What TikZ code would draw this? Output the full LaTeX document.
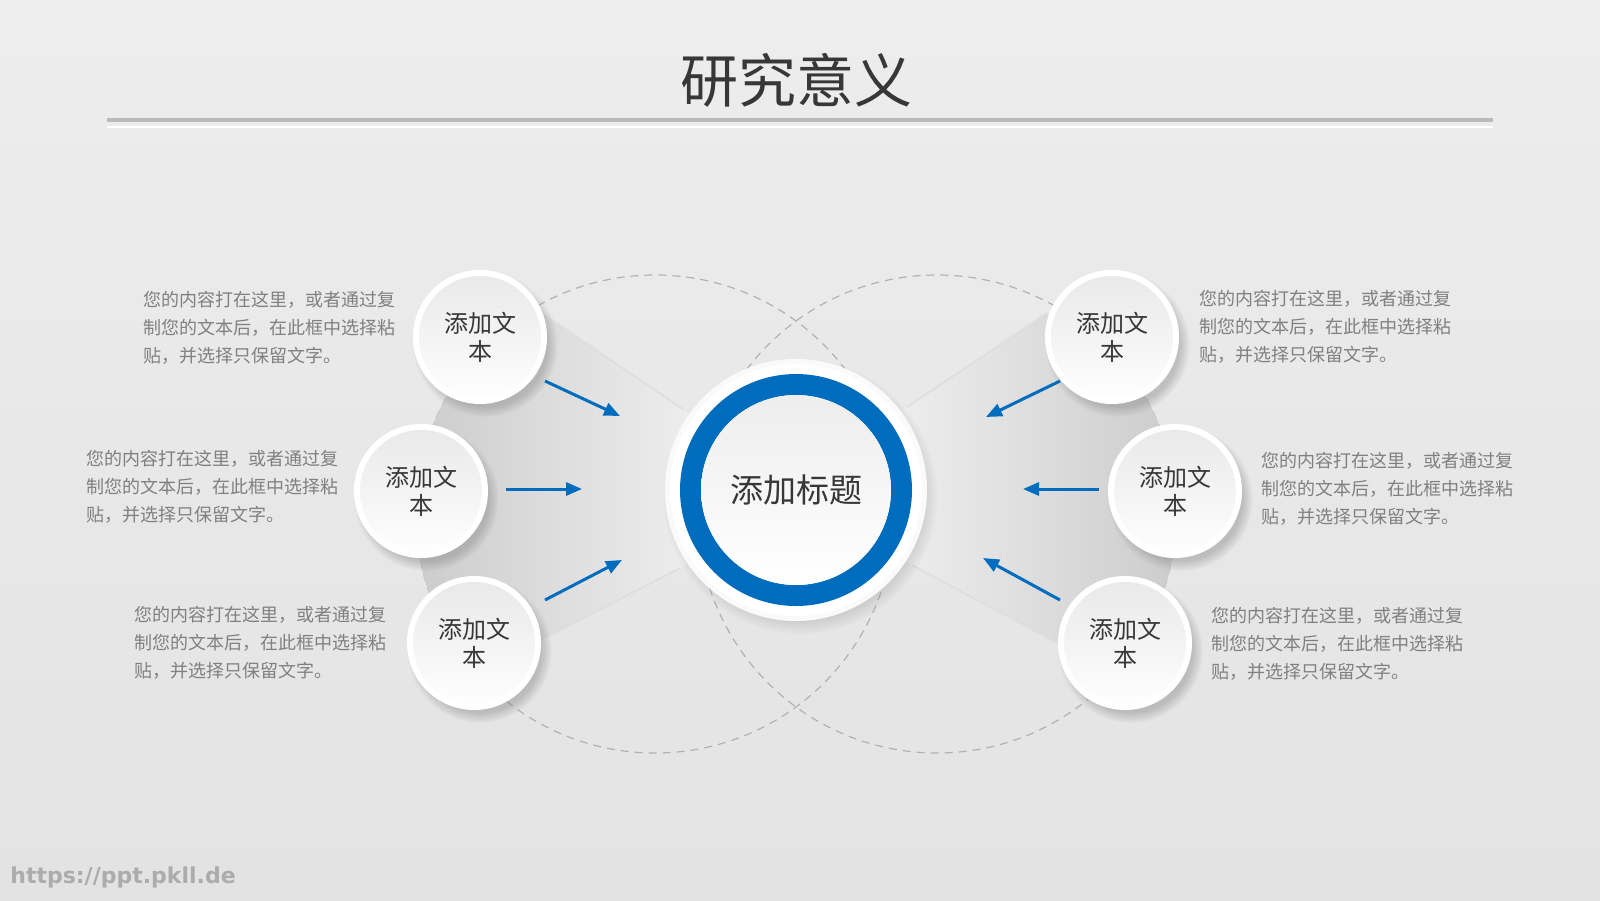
\documentclass[tikz,border=0pt]{standalone}
\usepackage{fontspec}
\setmainfont{Noto Sans CJK SC}
\newfontfamily\urlfont{DejaVu Sans}
\usepackage{xcolor}
\usepackage{tikz}
\usetikzlibrary{shapes,arrows.meta,positioning,calc,backgrounds,shadows}
\definecolor{mainblue}{RGB}{0, 108, 189}
\definecolor{darkgray}{RGB}{55, 55, 55}
\definecolor{textgray}{RGB}{128, 128, 128}

\newcommand{\notetext}{您的内容打在这里，或者通过复\\制您的文本后，在此框中选择粘\\贴，并选择只保留文字。}

\tikzset{
    ball/.style={circle, minimum size=67pt, inner sep=0pt, fill=white, align=center,
        text=darkgray, font=\fontsize{12}{14}\selectfont,
        circular drop shadow={shadow xshift=2.5pt, shadow yshift=-3.5pt, shadow scale=1.08, opacity=0.4},
        path picture={\shade[top color=gray!18, bottom color=white] (path picture bounding box.center) circle (30.5pt);}},
    hub/.style={circle, minimum size=131pt, inner sep=0pt, fill=gray!4, text=darkgray,
        font=\fontsize{16.5}{20}\selectfont,
        circular drop shadow={shadow xshift=2pt, shadow yshift=-3pt, shadow scale=1.05, opacity=0.35},
        path picture={
            \fill[white] (path picture bounding box.center) circle (63pt);
            \draw[mainblue, line width=10.5pt] (path picture bounding box.center) circle (52.75pt);
            \shade[top color=gray!14, bottom color=white] (path picture bounding box.center) circle (47.5pt);
        }},
    note/.style={anchor=west, align=left, inner sep=0pt, text=textgray, font=\fontsize{9}{14}\selectfont},
    flow/.style={-{Triangle[length=8pt, width=6.5pt]}, line width=1.5pt, mainblue},
    guide/.style={dash pattern=on 4pt off 3pt, gray!60, line width=0.6pt},
    fold/.style={gray!26, line width=0.8pt}
}

\begin{document}
\begin{tikzpicture}[x=0.5pt, y=-0.5pt, every node/.style={font=\small}]
    % Title
    \node[font=\fontsize{29}{32}\selectfont, text=darkgray] (title) at (796,80) {研究意义};
    \draw[gray!55, line width=2pt] (107,120) -- (1493,120);
    \draw[white, line width=1.2pt] (107,127) -- (1493,127);

    % Centre
    \node[hub] (c) at (796,490) {添加标题};

    % Side balls
    \foreach \name/\x/\y in {lt/480/337, lm/421/491, lb/474/643, rt/1112/337, rm/1175/491, rb/1125/643}
        \node[ball] (\name) at (\x,\y) {添加文\\本};

    % Notes
    \foreach \name/\x/\y in {lt/143/328, lm/86/487, lb/134/643, rt/1199/327, rm/1261/489, rb/1211/644}
        \node[note] (\name-note) at (\x,\y) {\notetext};

    % Arrows
    \foreach \name/\sx/\sy/\ex/\ey in {lt/545/381/620/416, lm/506/489/582/489, lb/545/600/622/560,
                                      rt/1060/381/986/417, rm/1099/489/1023/489, rb/1060/600/983/558} {
        \coordinate (\name-s) at (\sx,\sy);
        \coordinate (\name-e) at (\ex,\ey);
        \draw[flow] (\name-s) -- (\name-e);
    }

    % Watermark
    \node[anchor=west, inner sep=0pt, text=gray!65, font=\urlfont\bfseries\fontsize{11}{13}\selectfont] (mark) at (10,877) {https://ppt.pkll.de};

    % Background, guides and wedges
    \begin{scope}[on background layer]
        \shade[top color=gray!14, bottom color=gray!22] (0,0) rectangle (1600,900);
        \draw[guide] (655,514) circle[radius=119.5pt];
        \draw[guide] (937,514) circle[radius=119.5pt];
        \shade[left color=gray!42, middle color=gray!10, right color=gray!4]
            (lt.center) -- (542,313) -- (684,410) -- (c.center) -- (680,568) -- (537,642) -- (lb.center)
            -- (460,653) arc[start angle=215.5, end angle=137, radius=119.5pt] -- cycle;
        \shade[left color=gray!4, middle color=gray!10, right color=gray!42]
            (rt.center) -- (1047,313) -- (907,407) -- (c.center) -- (912,565) -- (1057,643) -- (rb.center)
            -- (1132,653) arc[start angle=-35.5, end angle=43, radius=119.5pt] -- cycle;
        \draw[fold] (542,313) -- (684,410);
        \draw[fold] (537,642) -- (680,568);
        \draw[fold] (1047,313) -- (907,407);
        \draw[fold] (1057,643) -- (912,565);
    \end{scope}
\end{tikzpicture}
\end{document}
